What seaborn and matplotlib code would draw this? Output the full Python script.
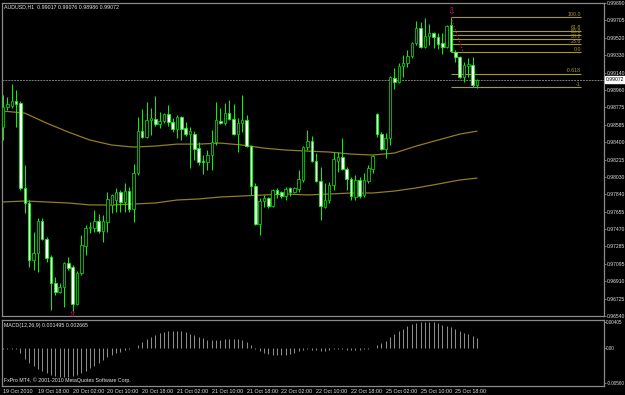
import numpy as np
import pandas as pd
import matplotlib
matplotlib.use("Agg")
import matplotlib.pyplot as plt
import seaborn as sns
from matplotlib import font_manager

# ---------------- data ----------------
bar_times = ["19 Oct 2010", "19 Oct 18:00", "20 Oct 02:00", "20 Oct 10:00", "20 Oct 18:00",
             "21 Oct 02:00", "21 Oct 10:00", "21 Oct 18:00", "22 Oct 02:00", "22 Oct 10:00",
             "22 Oct 18:00", "25 Oct 02:00", "25 Oct 10:00", "25 Oct 18:00"]
time_label_bars = [0, 8, 16, 24, 32, 40, 48, 56, 64, 72, 80, 88, 96, 104]

opens = [0.98562, 0.98776, 0.98787, 0.98840, 0.98819, 0.97910, 0.97749, 0.97139, 0.97214, 0.97556,
         0.97364, 0.97171, 0.96893, 0.96797, 0.96850, 0.97107, 0.97064, 0.96668, 0.97000, 0.97289,
         0.97482, 0.97482, 0.97556, 0.97449, 0.97546, 0.97728, 0.97781, 0.97867, 0.97760, 0.97877,
         0.97685, 0.98070, 0.98519, 0.98455, 0.98637, 0.98648, 0.98594, 0.98626, 0.98701, 0.98616,
         0.98541, 0.98669, 0.98551, 0.98487, 0.98487, 0.98337, 0.98198, 0.98188, 0.98263, 0.98402,
         0.98626, 0.98605, 0.98712, 0.98648, 0.98487, 0.98605, 0.98637, 0.98359, 0.97931, 0.97524,
         0.97770, 0.97803, 0.97717, 0.97888, 0.97867, 0.97824, 0.97910, 0.97867, 0.97899, 0.97995,
         0.98348, 0.98412, 0.98198, 0.97984, 0.97706, 0.97781, 0.97942, 0.98198, 0.98241, 0.98113,
         0.98006, 0.97813, 0.97995, 0.97835, 0.97984, 0.98113, 0.98701, 0.98487, 0.98327, 0.98444,
         0.99086, 0.99044, 0.99215, 0.99247, 0.99322, 0.99461, 0.99622, 0.99418, 0.99536, 0.99568,
         0.99525, 0.99461, 0.99418, 0.99654, 0.99365, 0.99311, 0.99097, 0.99215, 0.99226, 0.99017]
highs = [0.98905, 0.98883, 0.99022, 0.98958, 0.98840, 0.98156, 0.97781, 0.97439, 0.97589, 0.97589,
         0.97385, 0.97193, 0.96957, 0.96893, 0.97118, 0.97171, 0.97086, 0.97021, 0.97407, 0.97514,
         0.97546, 0.97674, 0.97631, 0.97621, 0.97867, 0.97845, 0.97910, 0.97888, 0.97963, 0.97920,
         0.98166, 0.98669, 0.98755, 0.98830, 0.98765, 0.98894, 0.98723, 0.98712, 0.98798, 0.98658,
         0.98691, 0.98680, 0.98616, 0.98562, 0.98519, 0.98402, 0.98263, 0.98316, 0.98530, 0.98830,
         0.98765, 0.98819, 0.98851, 0.98808, 0.98658, 0.98905, 0.98691, 0.98370, 0.97963, 0.97803,
         0.97835, 0.97813, 0.97899, 0.97910, 0.97877, 0.97920, 0.97920, 0.97920, 0.98102, 0.98359,
         0.98530, 0.98466, 0.98284, 0.98134, 0.97963, 0.97974, 0.98295, 0.98295, 0.98444, 0.98134,
         0.98027, 0.98049, 0.98027, 0.98070, 0.98156, 0.98263, 0.98712, 0.98509, 0.98498, 0.99108,
         0.99193, 0.99247, 0.99333, 0.99386, 0.99472, 0.99696, 0.99686, 0.99728, 0.99664, 0.99579,
         0.99568, 0.99568, 0.99654, 0.99739, 0.99386, 0.99322, 0.99258, 0.99301, 0.99311, 0.99076]
lows = [0.98423, 0.98744, 0.98765, 0.98562, 0.97888, 0.97642, 0.97064, 0.97032, 0.97011, 0.97353,
        0.97118, 0.96604, 0.96765, 0.96786, 0.96636, 0.97032, 0.96593, 0.96658, 0.96979, 0.97193,
        0.97428, 0.97439, 0.97428, 0.97332, 0.97439, 0.97642, 0.97653, 0.97653, 0.97653, 0.97653,
        0.97546, 0.98049, 0.98444, 0.98444, 0.98477, 0.98573, 0.98551, 0.98605, 0.98573, 0.98509,
        0.98444, 0.98423, 0.98466, 0.98123, 0.98209, 0.98156, 0.98059, 0.98102, 0.98102, 0.98370,
        0.98594, 0.98584, 0.98637, 0.98477, 0.98295, 0.98509, 0.98348, 0.97835, 0.97514, 0.97407,
        0.97706, 0.97695, 0.97706, 0.97803, 0.97803, 0.97781, 0.97824, 0.97856, 0.97867, 0.97974,
        0.98316, 0.98188, 0.97974, 0.97567, 0.97695, 0.97749, 0.97888, 0.98081, 0.98102, 0.97888,
        0.97781, 0.97781, 0.97803, 0.97813, 0.97963, 0.98070, 0.98455, 0.98316, 0.98230, 0.98370,
        0.98969, 0.99033, 0.99097, 0.99204, 0.99301, 0.99440, 0.99408, 0.99408, 0.99440, 0.99408,
        0.99397, 0.99343, 0.99408, 0.99365, 0.99258, 0.99086, 0.99044, 0.99097, 0.98990, 0.98986]
closes = [0.98776, 0.98808, 0.98840, 0.98808, 0.97910, 0.97749, 0.97139, 0.97214, 0.97556, 0.97364,
          0.97160, 0.96893, 0.96797, 0.96850, 0.97107, 0.97054, 0.96668, 0.97000, 0.97300, 0.97482,
          0.97492, 0.97556, 0.97449, 0.97556, 0.97792, 0.97835, 0.97867, 0.97760, 0.97877, 0.97685,
          0.98070, 0.98519, 0.98455, 0.98637, 0.98658, 0.98594, 0.98626, 0.98701, 0.98616, 0.98541,
          0.98669, 0.98541, 0.98487, 0.98519, 0.98327, 0.98188, 0.98188, 0.98263, 0.98402, 0.98637,
          0.98605, 0.98712, 0.98648, 0.98487, 0.98605, 0.98637, 0.98359, 0.97931, 0.97524, 0.97770,
          0.97803, 0.97717, 0.97888, 0.97845, 0.97824, 0.97899, 0.97867, 0.97910, 0.98006, 0.98348,
          0.98412, 0.98198, 0.97984, 0.97717, 0.97781, 0.97942, 0.98220, 0.98241, 0.98113, 0.98006,
          0.97824, 0.97995, 0.97824, 0.97995, 0.98123, 0.98252, 0.98487, 0.98327, 0.98444, 0.99097,
          0.99044, 0.99215, 0.99247, 0.99322, 0.99461, 0.99622, 0.99418, 0.99536, 0.99568, 0.99525,
          0.99450, 0.99418, 0.99643, 0.99375, 0.99311, 0.99097, 0.99226, 0.99236, 0.99012, 0.99072]

# moving averages sampled every 5 bars
ma_bars = [0, 5, 10, 15, 20, 25, 30, 35, 40, 45, 50, 55, 60, 65, 70, 75, 80, 85, 90, 95, 100, 105, 109]
ma_slow_upper = [0.98734, 0.98712, 0.98605, 0.98509, 0.98423, 0.98370, 0.98348, 0.98359, 0.98380, 0.98380,
                 0.98391, 0.98370, 0.98337, 0.98316, 0.98305, 0.98295, 0.98273, 0.98263, 0.98284, 0.98359,
                 0.98423, 0.98487, 0.98519]
ma_slow_lower = [0.97760, 0.97770, 0.97760, 0.97749, 0.97728, 0.97728, 0.97738, 0.97749, 0.97781, 0.97792,
                 0.97813, 0.97824, 0.97835, 0.97845, 0.97835, 0.97845, 0.97856, 0.97856, 0.97877, 0.97910,
                 0.97952, 0.97995, 0.98016]

macd_hist = [-0.00021, -0.00021, -0.00021, -0.00026, -0.00090, -0.00169, -0.00232, -0.00285, -0.00327, -0.00364,
             -0.00395, -0.00427, -0.00448, -0.00458, -0.00458, -0.00453, -0.00443, -0.00422, -0.00395, -0.00358,
             -0.00316, -0.00279, -0.00237, -0.00195, -0.00153, -0.00116, -0.00090, -0.00063, -0.00037, -0.00021,
             -0.00005, 0.00037, 0.00084, 0.00132, 0.00174, 0.00206, 0.00232, 0.00253, 0.00264, 0.00269,
             0.00269, 0.00258, 0.00242, 0.00221, 0.00195, 0.00169, 0.00148, 0.00126, 0.00116, 0.00121,
             0.00126, 0.00137, 0.00142, 0.00142, 0.00137, 0.00121, 0.00090, 0.00037, -0.00021, -0.00058,
             -0.00084, -0.00100, -0.00116, -0.00121, -0.00121, -0.00111, -0.00095, -0.00079, -0.00058, -0.00042,
             -0.00026, -0.00032, -0.00042, -0.00058, -0.00053, -0.00037, -0.00021, -0.00016, -0.00026, -0.00037,
             -0.00037, -0.00037, -0.00032, -0.00026, -0.00016, 0.00000, 0.00037, 0.00069, 0.00105, 0.00163,
             0.00216, 0.00264, 0.00300, 0.00337, 0.00369, 0.00390, 0.00406, 0.00411, 0.00411, 0.00400,
             0.00385, 0.00364, 0.00348, 0.00321, 0.00290, 0.00264, 0.00237, 0.00211, 0.00184, 0.00150]

price_ticks = [0.99890, 0.99705, 0.99520, 0.99330, 0.99140, 0.98960, 0.98775, 0.98585, 0.98400, 0.98215,
               0.98030, 0.97840, 0.97655, 0.97470, 0.97285, 0.97095, 0.96910, 0.96725, 0.96540]
macd_ticks = [0.00405, 0.0, -0.00560]
macd_tick_labels = ["0.00405", "0.00", "-0.00560"]

fib_names = ["100.0", "61.8", "50.0", "38.2", "23.6", "0.0", "-0.618", "-1"]
fib_prices = [0.99739, 0.99596, 0.99552, 0.99508, 0.99453, 0.99365, 0.99134, 0.98991]
fib_start_bar = 103
fib_end_bar = 132.9
fib_low_bar = 105.8
up_arrow_bar = 16
down_arrow_bar = 103

title_text = "AUDUSD,H1  0.99017 0.99076 0.98986 0.99072"
macd_text = "MACD(12,26,9) 0.001495 0.002665"
copyright_text = "FxPro MT4, \u00a9 2001-2010 MetaQuotes Software Corp."

# ---------------- style ----------------
sns.set_theme(style="dark", rc={
    "axes.facecolor": "black", "figure.facecolor": "black",
    "axes.edgecolor": "#8a8a8a", "axes.grid": False,
    "xtick.color": "#b0b0b0", "ytick.color": "#b0b0b0",
    "text.color": "#e6e6e6",
})


def pick_font():
    for name in ["Liberation Sans Narrow", "Liberation Sans", "DejaVu Sans"]:
        try:
            font_manager.findfont(name, fallback_to_default=False)
            return name
        except Exception:
            continue
    return "DejaVu Sans"


FONT = pick_font()
plt.rcParams["font.family"] = [FONT, "DejaVu Sans"]
FS_Y = 3.6
FS_X = 3.9
FS_T = 3.8

df = pd.DataFrame({"o": opens, "h": highs, "l": lows, "c": closes})
df["bar"] = np.arange(len(df))

W, H = 625, 395
fig = plt.figure(figsize=(W / 100, H / 100), dpi=100)
fig.patch.set_facecolor("black")

ax = fig.add_axes([2 / W, 1 - 316 / H, 602 / W, 313 / H])
ax2 = fig.add_axes([2 / W, 1 - 386 / H, 602 / W, 66 / H])

xmin, xmax = -0.25, 138.2
for a in (ax, ax2):
    a.set_facecolor("black")
    a.set_xlim(xmin, xmax)
    for s in a.spines.values():
        s.set_color("#8a8a8a")
        s.set_linewidth(0.9)

# candles
green = "#00ff00"
ax.vlines(df["bar"], df["l"], df["h"], color=green, lw=0.7, zorder=2)
bull = df[df["c"] >= df["o"]]
bear = df[df["c"] < df["o"]]
min_h = 0.00002
ax.bar(bull["bar"], np.maximum(bull["c"] - bull["o"], min_h), bottom=bull["o"], width=0.58,
       color="black", edgecolor="#00d000", linewidth=0.6, zorder=3)
ax.bar(bear["bar"], np.maximum(bear["o"] - bear["c"], min_h), bottom=bear["c"], width=0.58,
       color="white", edgecolor=green, linewidth=0.6, zorder=3)

# moving averages
ma_df = pd.DataFrame({"bar": ma_bars, "up": ma_slow_upper, "lo": ma_slow_lower})
sns.lineplot(data=ma_df, x="bar", y="up", ax=ax, color="#927e22", lw=0.9, zorder=1)
sns.lineplot(data=ma_df, x="bar", y="lo", ax=ax, color="#927e22", lw=0.9, zorder=1)

# bid line
last = closes[-1]
ax.axhline(last, color="#7c7c7c", lw=0.7, ls=(0, (2, 1)), zorder=1)

# fibonacci
fib_col = "#a89a2a"
ax.hlines(fib_prices, fib_start_bar, fib_end_bar, color=fib_col, lw=0.8, zorder=2)
for nm, p in zip(fib_names, fib_prices):
    ax.text(fib_end_bar, p + 0.00003, nm, ha="right", va="bottom", fontsize=FS_T, color=fib_col)
ax.plot([fib_start_bar, fib_low_bar], [fib_prices[0], fib_prices[5]], color="#c02040",
        ls=(0, (1, 1.5)), lw=0.9, zorder=4)

# arrows
ax.text(up_arrow_bar, lows[up_arrow_bar] + 0.0001, "\u21e7", ha="center", va="top", fontsize=6.5,
        color="#e0207a", family="DejaVu Sans", zorder=5)
ax.text(down_arrow_bar, highs[down_arrow_bar] + 0.00008, "\u21e9", ha="center", va="bottom", fontsize=6.5,
        color="#e0207a", family="DejaVu Sans", zorder=5)

ax.set_ylim(0.96538, 0.99892)
ax.yaxis.tick_right()
ax.set_yticks(price_ticks)
ax.set_yticklabels([f"{v:.5f}" for v in price_ticks])
ax.tick_params(axis="y", length=1.3, width=0.6, pad=0.4, labelsize=FS_Y, labelcolor="#e0e0e0", color="#8a8a8a")
ax.set_xticks([])
ax.set_xlabel("")
ax.set_ylabel("")

ax.text(1.003, last, f"{last:.5f}", transform=ax.get_yaxis_transform(), ha="left", va="center",
        fontsize=FS_Y, color="black",
        bbox=dict(boxstyle="square,pad=0.12", fc="white", ec="white"), zorder=6)

fig.text(4 / W, 1 - 4 / H, title_text, ha="left", va="top", fontsize=FS_T, color="#e6e6e6")

# MACD pane
ax2.vlines(np.arange(len(macd_hist)), 0, macd_hist, color="#a8a8a8", lw=0.6)
ax2.set_ylim(-0.00600, 0.00435)
ax2.yaxis.tick_right()
ax2.set_yticks(macd_ticks)
ax2.set_yticklabels(macd_tick_labels)
ax2.tick_params(axis="y", length=1.3, width=0.6, pad=0.4, labelsize=3.3, labelcolor="#e0e0e0", color="#8a8a8a")
ax2.set_xticks(time_label_bars)
ax2.set_xticklabels(bar_times, ha="left")
ax2.tick_params(axis="x", length=2, width=0.6, pad=0.5, labelsize=FS_X, labelcolor="#e0e0e0", color="#8a8a8a")
ax2.set_xlabel("")
ax2.set_ylabel("")
ax2.text(0.004, 0.95, macd_text, transform=ax2.transAxes, ha="left", va="top", fontsize=FS_T, color="#e6e6e6")
ax2.text(0.004, 0.05, copyright_text, transform=ax2.transAxes, ha="left", va="bottom", fontsize=FS_T,
         color="#e6e6e6")

fig.savefig("out.png", dpi=100, facecolor="black")
